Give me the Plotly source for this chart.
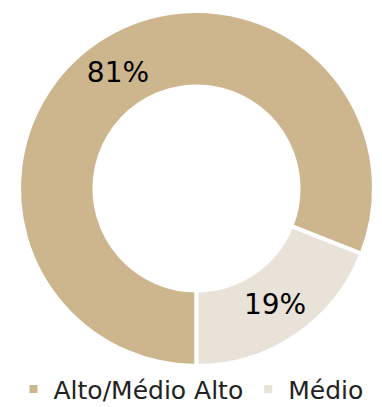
import plotly.graph_objects as go

labels = ["Alto/Médio Alto", "Médio"]
values = [81, 19]
colors = ["#CDB68E", "#E8E2D8"]

fig = go.Figure(go.Pie(
    labels=labels,
    values=values,
    hole=0.575,
    sort=False,
    direction="clockwise",
    rotation=180,
    marker=dict(colors=colors, line=dict(color="white", width=4)),
    textinfo="percent",
    texttemplate="%{percent:.0%}",
    textposition="inside",
    insidetextorientation="horizontal",
    textfont=dict(family="DejaVu Sans", size=28, color="black"),
    hoverinfo="skip",
))

fig.update_layout(
    width=382, height=407,
    margin=dict(l=19, r=8, t=11, b=41, autoexpand=False),
    paper_bgcolor="white",
    plot_bgcolor="white",
    showlegend=True,
    legend=dict(
        orientation="h",
        x=0.5, xanchor="center", xref="container",
        y=-0.13, yanchor="bottom", yref="paper",
        font=dict(family="DejaVu Sans", size=25, color="#222222"),
        itemclick=False,
        bgcolor="rgba(0,0,0,0)",
    ),
)

fig.write_html("out.html")
